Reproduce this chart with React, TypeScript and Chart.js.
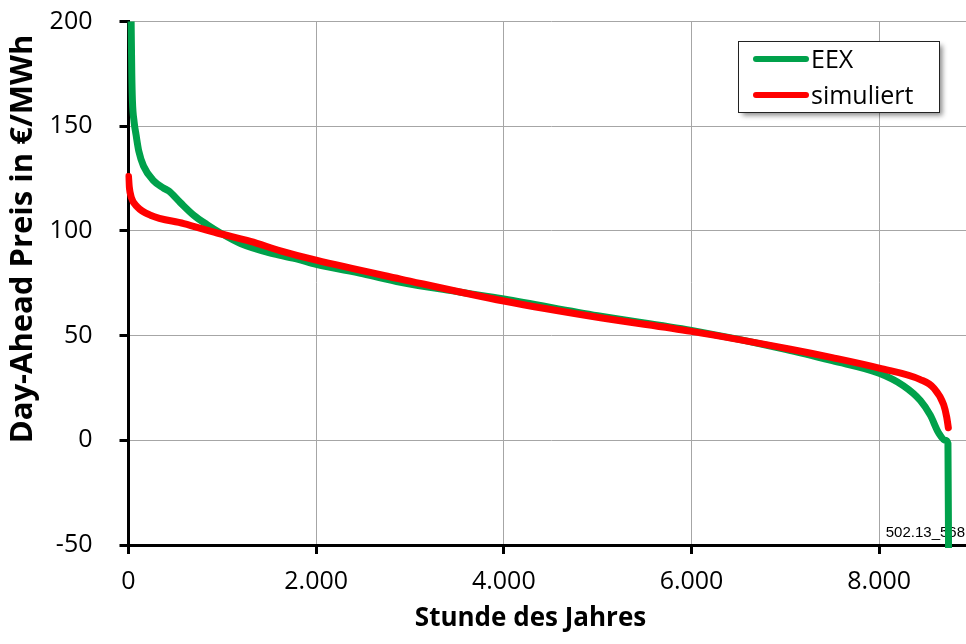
import React, { useEffect, useRef } from "react";
import { Chart, registerables } from "chart.js";

Chart.register(...registerables);

// ---- data ----
const eexHours = [28, 35, 42, 60, 80, 110, 160, 266, 372, 430, 553, 695, 837, 980, 1193, 1548, 1800, 2000, 2500, 2900, 3500, 4000, 5000, 6000, 7000, 7500, 8000, 8260, 8439, 8545, 8634, 8705, 8733, 8740];
const eexPrice = [200, 175, 162, 152, 146, 138, 131, 124, 120.5, 119, 113.5, 107.5, 103, 99, 94, 89, 86.5, 84, 79.5, 75.5, 71, 67.5, 59.5, 52.5, 43.5, 38, 32, 26, 19, 12, 3.5, 0, -1.5, -60];

const simHours = [0, 8, 30, 93, 234, 590, 945, 1300, 1620, 2000, 2900, 4000, 5030, 6000, 7054, 7500, 8000, 8439, 8581, 8687, 8720, 8737];
const simPrice = [126, 121, 116, 111.5, 107.5, 103.5, 99, 95, 90.5, 86, 77, 66.5, 58.5, 52, 43.5, 39.5, 34.5, 29, 25, 17, 11, 6];

const seriesLabels = ["EEX", "simuliert"];
const seriesColors = ["#00a14b", "#ff0000"];
const xTickValues = [0, 2000, 4000, 6000, 8000];
const yTickValues = [-50, 0, 50, 100, 150, 200];
const xTitle = "Stunde des Jahres";
const yTitle = "Day-Ahead Preis in €/MWh";
const noteText = "502.13_568";

const fmt = (v: number) => String(v).replace(/\B(?=(\d{3})+(?!\d))/g, ".");

const noteAndTitles = {
  id: "noteAndTitles",
  beforeDatasetsDraw(chart: any) {
    const ctx = chart.ctx;
    ctx.save();
    ctx.fillStyle = "#000";
    ctx.font = "15px 'Liberation Sans'";
    ctx.textAlign = "right";
    ctx.textBaseline = "alphabetic";
    ctx.fillText(noteText, 965, 537);
    ctx.restore();
  },
  afterDraw(chart: any) {
    const ctx = chart.ctx;
    ctx.save();
    ctx.fillStyle = "#000";
    ctx.font = "bold 26px 'Open Sans'";
    ctx.textAlign = "center";
    ctx.textBaseline = "alphabetic";
    ctx.fillText(xTitle, 530.5, 626);
    ctx.save();
    ctx.translate(32, 239);
    ctx.rotate(-Math.PI / 2);
    ctx.font = "bold 31px 'Open Sans'";
    ctx.fillText(yTitle, 0, 0);
    ctx.restore();

    // legend box
    const bx = 738.5, by = 41.5, bw = 201, bh = 71;
    ctx.save();
    ctx.shadowColor = "rgba(0,0,0,0.45)";
    ctx.shadowBlur = 5;
    ctx.shadowOffsetX = 3;
    ctx.shadowOffsetY = 3;
    ctx.fillStyle = "#fff";
    ctx.fillRect(bx, by, bw, bh);
    ctx.restore();
    ctx.strokeStyle = "#222";
    ctx.lineWidth = 1;
    ctx.strokeRect(bx, by, bw, bh);
    const rows = [59, 95];
    seriesLabels.forEach((lab, i) => {
      ctx.strokeStyle = seriesColors[i];
      ctx.lineWidth = 6;
      ctx.lineCap = "round";
      ctx.beginPath();
      ctx.moveTo(756, rows[i]);
      ctx.lineTo(806, rows[i]);
      ctx.stroke();
      ctx.fillStyle = "#000";
      ctx.font = "25px 'Open Sans'";
      ctx.textAlign = "left";
      ctx.fillText(lab, 811, rows[i] + 8.5);
    });
    ctx.restore();
  },
};

export default function App() {
  const ref = useRef<HTMLCanvasElement | null>(null);
  useEffect(() => {
    const canvas = ref.current;
    if (!canvas) return;
    const chart = new Chart(canvas, {
      type: "line",
      data: {
        datasets: [
          {
            label: seriesLabels[0],
            data: eexHours.map((h, i) => ({ x: h, y: eexPrice[i] })),
            borderColor: seriesColors[0],
            backgroundColor: seriesColors[0],
            borderWidth: 7,
            pointRadius: 0,
            cubicInterpolationMode: "monotone",
            borderCapStyle: "round",
            borderJoinStyle: "round",
            order: 2,
            clip: { left: 3, top: 0, right: 10, bottom: 3 },
          },
          {
            label: seriesLabels[1],
            data: simHours.map((h, i) => ({ x: h, y: simPrice[i] })),
            borderColor: seriesColors[1],
            backgroundColor: seriesColors[1],
            borderWidth: 7,
            pointRadius: 0,
            cubicInterpolationMode: "monotone",
            borderCapStyle: "round",
            borderJoinStyle: "round",
            order: 1,
            clip: { left: 3, top: 0, right: 10, bottom: 3 },
          },
        ],
      },
      options: {
        animation: false,
        responsive: false,
        devicePixelRatio: 1,
        layout: { padding: { left: 0, top: 21.5, right: 7, bottom: 0 } },
        plugins: { legend: { display: false }, tooltip: { enabled: false } },
        scales: {
          x: {
            type: "linear",
            min: 0,
            max: 9000,
            afterBuildTicks: (s: any) => {
              s.ticks = xTickValues.map((v) => ({ value: v }));
            },
            afterFit: (s: any) => {
              s.height = 99;
              s.paddingLeft = 0;
              s.paddingRight = 0;
            },
            ticks: {
              font: { family: "'Open Sans'", size: 25 },
              color: "#000",
              padding: 13,
              maxRotation: 0,
              callback: (v: any) => fmt(Number(v)),
            },
            grid: { color: "#a6a6a6", lineWidth: 1, tickLength: 9, tickColor: "#000", tickWidth: 3 },
            border: { color: "#000", width: 3 },
          },
          y: {
            type: "linear",
            min: -50,
            max: 200,
            afterBuildTicks: (s: any) => {
              s.ticks = yTickValues.map((v) => ({ value: v }));
            },
            afterFit: (s: any) => {
              s.width = 128.5;
              s.paddingTop = 0;
              s.paddingBottom = 0;
            },
            ticks: {
              font: { family: "'Open Sans'", size: 25 },
              color: "#000",
              padding: 27,
              callback: (v: any) => fmt(Number(v)),
            },
            grid: { color: "#a6a6a6", lineWidth: 1, tickLength: 9, tickColor: "#000", tickWidth: 3 },
            border: { color: "#000", width: 3 },
          },
        },
      },
      plugins: [noteAndTitles],
    } as any);
    return () => chart.destroy();
  }, []);

  return (
    <div style={{ position: "fixed", left: 0, top: 0, width: 966, height: 644, overflow: "hidden", background: "#fff" }}>
      <canvas ref={ref} width={980} height={644} style={{ display: "block", width: 980, height: 644 }} />
    </div>
  );
}
